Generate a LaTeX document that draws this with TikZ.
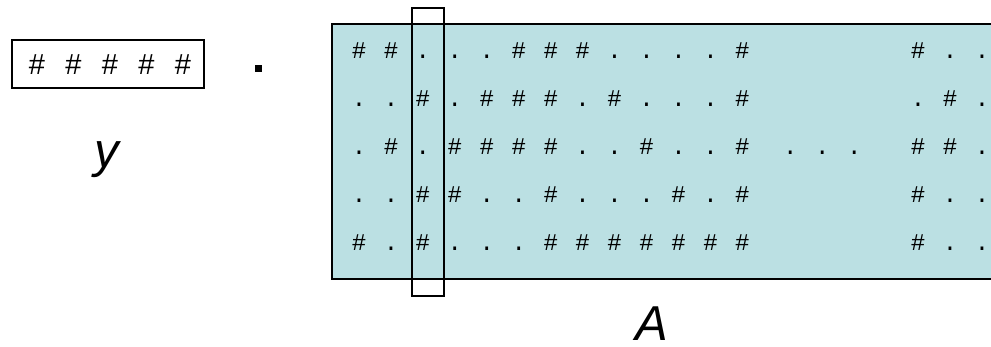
\documentclass[tikz,border=0pt]{standalone}
\usepackage{fontspec}
\setmainfont{Liberation Sans}
\newfontfamily\gridfont{Liberation Mono}
\definecolor{teal}{RGB}{187,224,227}
\def\symh{\#}
\def\symd{.}
\begin{document}
\begin{tikzpicture}[x=1pt,y=-1pt,
  cell/.style={inner sep=0pt,anchor=base,font=\gridfont\fontsize{24}{28}\selectfont},
  ycell/.style={inner sep=0pt,anchor=base,font=\fontsize{29}{34}\selectfont},
  lab/.style={inner sep=0pt,anchor=base,font=\itshape\fontsize{49}{58}\selectfont},
  frame/.style={draw=black,line width=2pt}]
\useasboundingbox (0,0) rectangle (991,346);
% matrix A background
\fill[teal] (332,24) rectangle (991,279);
\draw[frame] (991,24) -- (332,24) -- (332,279) -- (991,279);
% grid
\foreach \row/\bl/\cells in {
  1/58/{h,h,d,d,d,h,h,h,d,d,d,d,h},
  2/106/{d,d,h,d,h,h,h,d,h,d,d,d,h},
  3/154/{d,h,d,h,h,h,h,d,d,h,d,d,h},
  4/202/{d,d,h,h,d,d,h,d,d,d,h,d,h},
  5/250/{h,d,h,d,d,d,h,h,h,h,h,h,h}}{
  \foreach \c [count=\i] in \cells {
    \node[cell] (c\row-\i) at ({359+31.95*(\i-1)},\bl) {\csname sym\c\endcsname};
  }
}
\foreach \row/\bl/\cells in {
  1/58/{h,d,d},
  2/106/{d,h,d},
  3/154/{h,h,d},
  4/202/{h,d,d},
  5/250/{h,d,d}}{
  \foreach \c [count=\i] in \cells {
    \node[cell] (r\row-\i) at ({359+31.95*(16.5+\i)},\bl) {\csname sym\c\endcsname};
  }
}
\foreach \i in {1,2,3}{
  \node[cell] (m\i) at ({359+31.95*(12.5+\i)},154) {.};
}
% highlighted column
\node[frame,inner sep=0pt,minimum width=32pt,minimum height=288pt] (colbox) at (428,152) {};
% vector y
\node[frame,inner sep=0pt,minimum width=192pt,minimum height=48pt] (ybox) at (108,64) {};
\foreach \i in {1,...,5}{
  \node[ycell] (y\i) at ({37+36.5*(\i-1)},74) {\#};
}
\node[fill=black,inner sep=0pt,minimum size=7pt] (dot) at (258,68) {};
\node[lab] (ylab) at (107,167) {y};
\node[lab] (Alab) at (652,340) {A};
\end{tikzpicture}
\end{document}
